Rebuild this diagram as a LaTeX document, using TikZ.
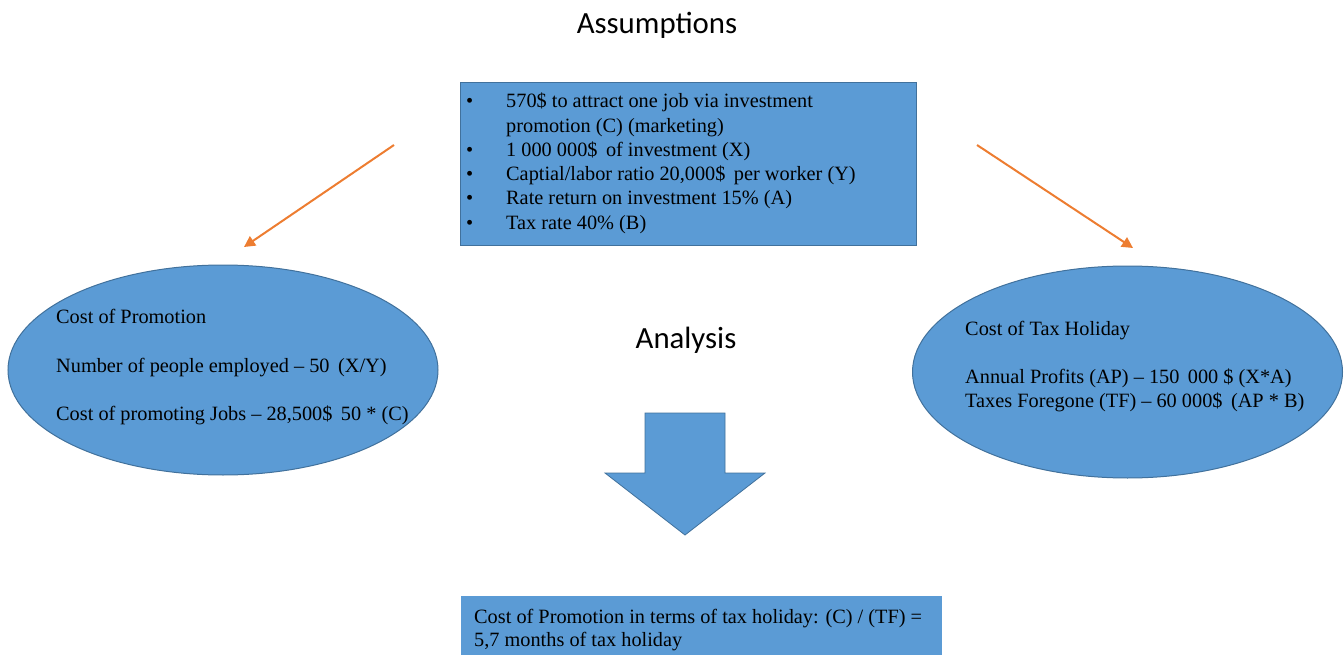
\documentclass[tikz,border=0pt]{standalone}
\usepackage{fontspec}
\setmainfont{Liberation Serif}
\newfontfamily\calibri{Carlito}
\usetikzlibrary{shapes.geometric,arrows.meta}
\definecolor{boxblue}{HTML}{5B9BD5}
\definecolor{edgeblue}{HTML}{41719C}
\definecolor{arroworange}{HTML}{ED7D31}
\begin{document}
\begin{tikzpicture}[x=1pt,y=-1pt,
  titletxt/.style={inner sep=0pt, font=\calibri\fontsize{30.8}{36}\selectfont},
  txt/.style={inner sep=0pt, anchor=west, text height=14.5pt, text depth=4pt, font=\fontsize{20.3}{24}\selectfont},
  bul/.style={inner sep=0pt, anchor=west, text height=14.5pt, text depth=4pt, font=\fontsize{20.3}{24}\selectfont},
  topbox/.style={rectangle, fill=boxblue, draw=edgeblue, line width=1pt, inner sep=0pt},
  oval/.style={ellipse, fill=boxblue, draw=edgeblue, line width=1pt, inner sep=0pt},
  botbox/.style={rectangle, fill=boxblue, inner sep=0pt},
  orangearrow/.style={draw=arroworange, line width=2pt, -{Triangle[length=11pt,width=11pt]}}
]
\useasboundingbox (0,0) rectangle (1344,655);

% titles
\node[titletxt] (assum) at (657,25) {Assumptions};
\node[titletxt] (analysis) at (686,340) {Analysis};

% top box
\node[topbox, minimum width=456pt, minimum height=163pt] (assbox) at (688,164.5) {};
\node[bul] (b1) at (466,102) {\textbullet};
\node[txt] (t1) at (506,102) {570\$ to attract one job via investment};
\node[txt] (t1b) at (506,127) {promotion (C) (marketing)};
\node[bul] (b2) at (466,151) {\textbullet};
\node[txt] (t2) at (506,151) {1 000 000\$ \,of investment (X)};
\node[bul] (b3) at (466,175) {\textbullet};
\node[txt] (t3) at (506,175) {Captial/labor ratio 20,000\$ \,per worker (Y)};
\node[bul] (b4) at (466,199) {\textbullet};
\node[txt] (t4) at (506,199) {Rate return on investment 15\% (A)};
\node[bul] (b5) at (466,224) {\textbullet};
\node[txt] (t5) at (506,224) {Tax rate 40\% (B)};

% left ellipse
\node[oval, minimum width=430pt, minimum height=210pt] (promo) at (223,370) {};
\node[txt] (p1) at (56,318) {Cost of Promotion};
\node[txt] (p2) at (56,367) {Number of people employed -- 50 \,(X/Y)};
\node[txt] (p3) at (56,415) {Cost of promoting Jobs -- 28,500\$ \,50 * (C)};

% right ellipse
\node[oval, minimum width=430pt, minimum height=212pt] (taxhol) at (1127.5,372) {};
\node[txt] (h1) at (965,330) {Cost of Tax Holiday};
\node[txt] (h2) at (965,378) {Annual Profits (AP) -- 150 \,000 \$ (X*A)};
\node[txt] (h3) at (965,402) {Taxes Foregone (TF) -- 60 000\$ \,(AP * B)};

% orange arrows
\coordinate (la) at (394,145);
\coordinate (lb) at (244,247);
\coordinate (ra) at (977,145);
\coordinate (rb) at (1133,248);
\draw[orangearrow] (la) -- (lb);
\draw[orangearrow] (ra) -- (rb);

% big down arrow
\draw[fill=boxblue, draw=edgeblue, line width=0.8pt]
  (645,413) -- (725,413) -- (725,473) -- (765,473) -- (685,535) -- (605,473) -- (645,473) -- cycle;

% bottom box
\node[botbox, minimum width=481pt, minimum height=59pt] (result) at (701.5,625.5) {};
\node[txt] (r1) at (474,618) {Cost of Promotion in terms of tax holiday: (C) / (TF) =};
\node[txt] (r2) at (474,641) {5,7 months of tax holiday};
\end{tikzpicture}
\end{document}
